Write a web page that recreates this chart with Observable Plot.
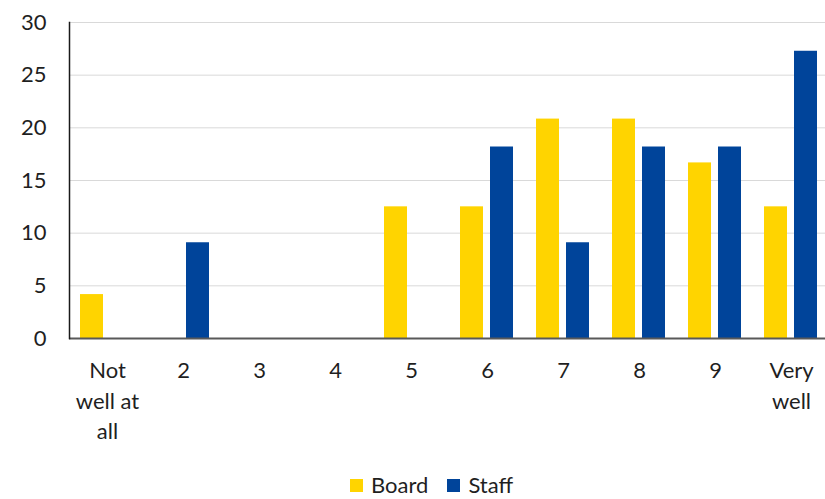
<!DOCTYPE html>
<html>
<head>
<meta charset="utf-8">
<script src="https://cdn.jsdelivr.net/npm/d3@7"></script>
<script src="https://cdn.jsdelivr.net/npm/@observablehq/plot@0.6"></script>
<style>
  html, body { margin: 0; padding: 0; background: #fff; }
  #wrap { position: relative; width: 825px; height: 499px; font-family: Lato, "Open Sans", sans-serif; color: #1f1f1f; }
  #legend { position: absolute; top: 472px; left: 350px; display: flex; align-items: center; font-size: 22px; line-height: 26px; }
  #legend .item { display: flex; align-items: center; margin-right: 19px; }
  #legend .sw { width: 13px; height: 13px; margin-right: 8px; }
</style>
</head>
<body>
<div id="wrap"></div>
<script>
// Rating categories (x axis) and their printed labels
const categories = ["Not well at all", "2", "3", "4", "5", "6", "7", "8", "9", "Very well"];
const tickLabels = ["Not\nwell at\nall", "2", "3", "4", "5", "6", "7", "8", "9", "Very\nwell"];

// Series and their values (percent of respondents)
const series = ["Board", "Staff"];
const board = [4.17, 0, 0, 0, 12.5, 12.5, 20.83, 20.83, 16.67, 12.5];
const staff = [0, 9.09, 0, 0, 0, 18.18, 9.09, 18.18, 18.18, 27.27];
const colors = ["#FFD400", "#00449A"];

// Y axis ticks
const yTicks = [0, 5, 10, 15, 20, 25, 30];

const rows = categories.flatMap((c, i) => [
  {category: c, series: series[0], value: board[i]},
  {category: c, series: series[1], value: staff[i]}
]);

const chart = Plot.plot({
  width: 825,
  height: 460,
  marginLeft: 66,
  marginRight: -6.5,
  marginTop: 22,
  marginBottom: 122,
  style: {fontFamily: "Lato, 'Open Sans', sans-serif", color: "#1f1f1f", background: "white", overflow: "hidden"},
  fx: {domain: categories, padding: 0, label: null},
  x: {domain: series, paddingInner: 0.23, paddingOuter: 0.38, axis: null},
  y: {domain: [0, 30], label: null},
  color: {domain: series, range: colors},
  marks: [
    Plot.gridY(yTicks, {stroke: "#d9d9d9", strokeOpacity: 1, strokeWidth: 1}),
    Plot.barY(rows, {fx: "category", x: "series", y: "value", fill: "series"}),
    Plot.ruleY([0], {stroke: "#595959", strokeWidth: 2}),
    Plot.frame({anchor: "left", facetAnchor: "left", stroke: "#1a1a1a", strokeWidth: 1.5}),
    Plot.axisY(yTicks, {tickSize: 0, tickPadding: 23, fontSize: 22, label: null}),
    Plot.axisFx({
      anchor: "bottom",
      tickSize: 0,
      tickPadding: 18,
      fontSize: 22,
      lineHeight: 1.39,
      label: null,
      tickFormat: d => tickLabels[categories.indexOf(d)]
    })
  ]
});

const wrap = document.getElementById("wrap");
wrap.appendChild(chart);

// Legend below the plot, built from the series and colours
const legend = document.createElement("div");
legend.id = "legend";
series.forEach((s, i) => {
  const item = document.createElement("div");
  item.className = "item";
  const sw = document.createElement("span");
  sw.className = "sw";
  sw.style.background = colors[i];
  const label = document.createElement("span");
  label.textContent = s;
  item.appendChild(sw);
  item.appendChild(label);
  legend.appendChild(item);
});
wrap.appendChild(legend);
</script>
</body>
</html>
